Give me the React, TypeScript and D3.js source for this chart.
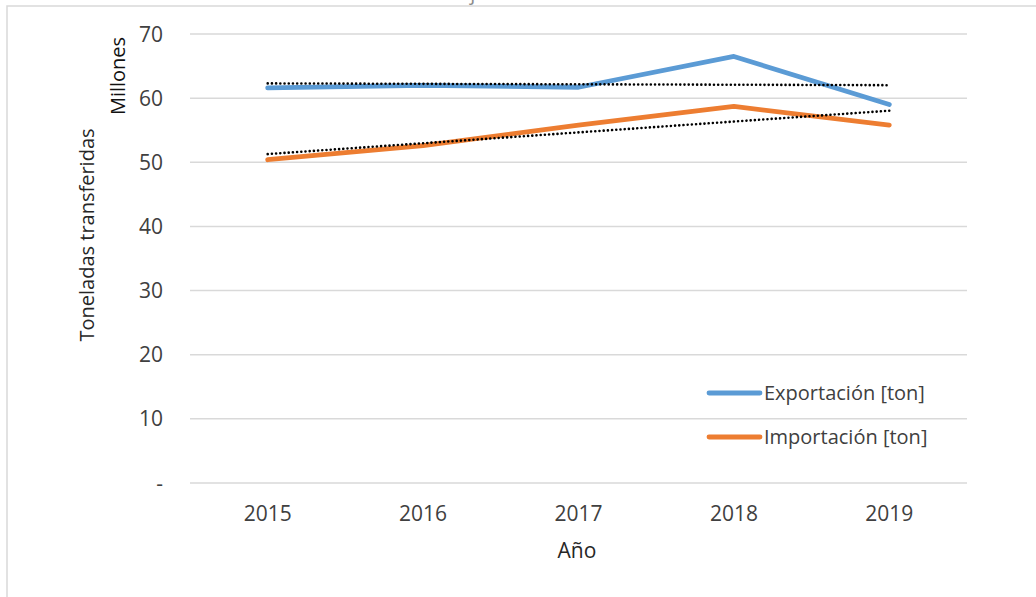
import React from "react";
import * as d3 from "d3";

const years = ["2015", "2016", "2017", "2018", "2019"];
const exportacion = [61.6, 62.0, 61.7, 66.5, 59.0];
const importacion = [50.4, 52.6, 55.8, 58.7, 55.8];
const yTicks = [0, 10, 20, 30, 40, 50, 60, 70];
const seriesNames = ["Exportación [ton]", "Importación [ton]"];
const seriesColors = ["#5B9BD5", "#ED7D31"];

const W = 1036;
const H = 597;
const plot = { left: 190, right: 967, top: 34, bottom: 483 };

function trend(vals: number[]): number[] {
  const xs = vals.map((_, i) => i);
  const mx = d3.mean(xs)!;
  const my = d3.mean(vals)!;
  let num = 0, den = 0;
  xs.forEach((x, i) => { num += (x - mx) * (vals[i] - my); den += (x - mx) ** 2; });
  const b = num / den;
  const a = my - b * mx;
  return xs.map((x) => a + b * x);
}

export default function App() {
  const x = d3.scaleBand<string>().domain(years).range([plot.left, plot.right]);
  const y = d3.scaleLinear().domain([0, 70]).range([plot.bottom, plot.top]);
  const cx = (d: string) => (x(d) ?? 0) + x.bandwidth() / 2;
  const line = d3
    .line<number>()
    .x((_, i) => cx(years[i]))
    .y((v) => y(v));
  const allSeries = [exportacion, importacion];
  const font = "'Open Sans', 'Noto Sans', sans-serif";
  const textColor = "#404040";

  return (
    <svg
      width={W}
      height={H}
      style={{ position: "absolute", left: 0, top: 0, background: "#fff" }}
      fontFamily={font}
    >
      <rect x={7} y={6} width={W + 10} height={H + 10} fill="#fff" stroke="#d9d9d9" strokeWidth={1.5} />
      <text x={530} y={0.3} textAnchor="middle" fontSize={20} fill="#8c8c8c">
        Tonelaje anual transferido
      </text>
      {yTicks.map((t) => (
        <g key={t}>
          <line x1={plot.left} x2={plot.right} y1={y(t)} y2={y(t)} stroke="#d9d9d9" strokeWidth={1.5} />
          <text x={163} y={y(t)} dy="0.36em" textAnchor="end" fontSize={21} fill={textColor}>
            {t === 0 ? "-" : t}
          </text>
        </g>
      ))}
      {years.map((yr) => (
        <text key={yr} x={cx(yr)} y={521} textAnchor="middle" fontSize={21} fill={textColor}>
          {yr}
        </text>
      ))}
      <text x={577} y={558} textAnchor="middle" fontSize={21} fill="#262626">
        Año
      </text>
      <text transform="translate(94,235) rotate(-90)" textAnchor="middle" fontSize={20} fill="#262626">
        Toneladas transferidas
      </text>
      <text transform="translate(125,76) rotate(-90)" textAnchor="middle" fontSize={20} fontWeight={500} fill="#111">
        Millones
      </text>
      {allSeries.map((s, i) => (
        <path
          key={"s" + i}
          d={line(s) ?? ""}
          fill="none"
          stroke={seriesColors[i]}
          strokeWidth={4.8}
          strokeLinejoin="round"
          strokeLinecap="round"
        />
      ))}
      {allSeries.map((s, i) => (
        <path
          key={"t" + i}
          d={line(trend(s)) ?? ""}
          fill="none"
          stroke="#000"
          strokeWidth={2.6}
          strokeLinecap="round"
          strokeDasharray="0.01 4.2"
        />
      ))}
      {seriesNames.map((n, i) => (
        <g key={n}>
          <line
            x1={709}
            x2={760}
            y1={393 + i * 44}
            y2={393 + i * 44}
            stroke={seriesColors[i]}
            strokeWidth={4.8}
            strokeLinecap="round"
          />
          <text x={764} y={393 + i * 44} dy="0.36em" fontSize={20} fill={textColor}>
            {n}
          </text>
        </g>
      ))}
    </svg>
  );
}
